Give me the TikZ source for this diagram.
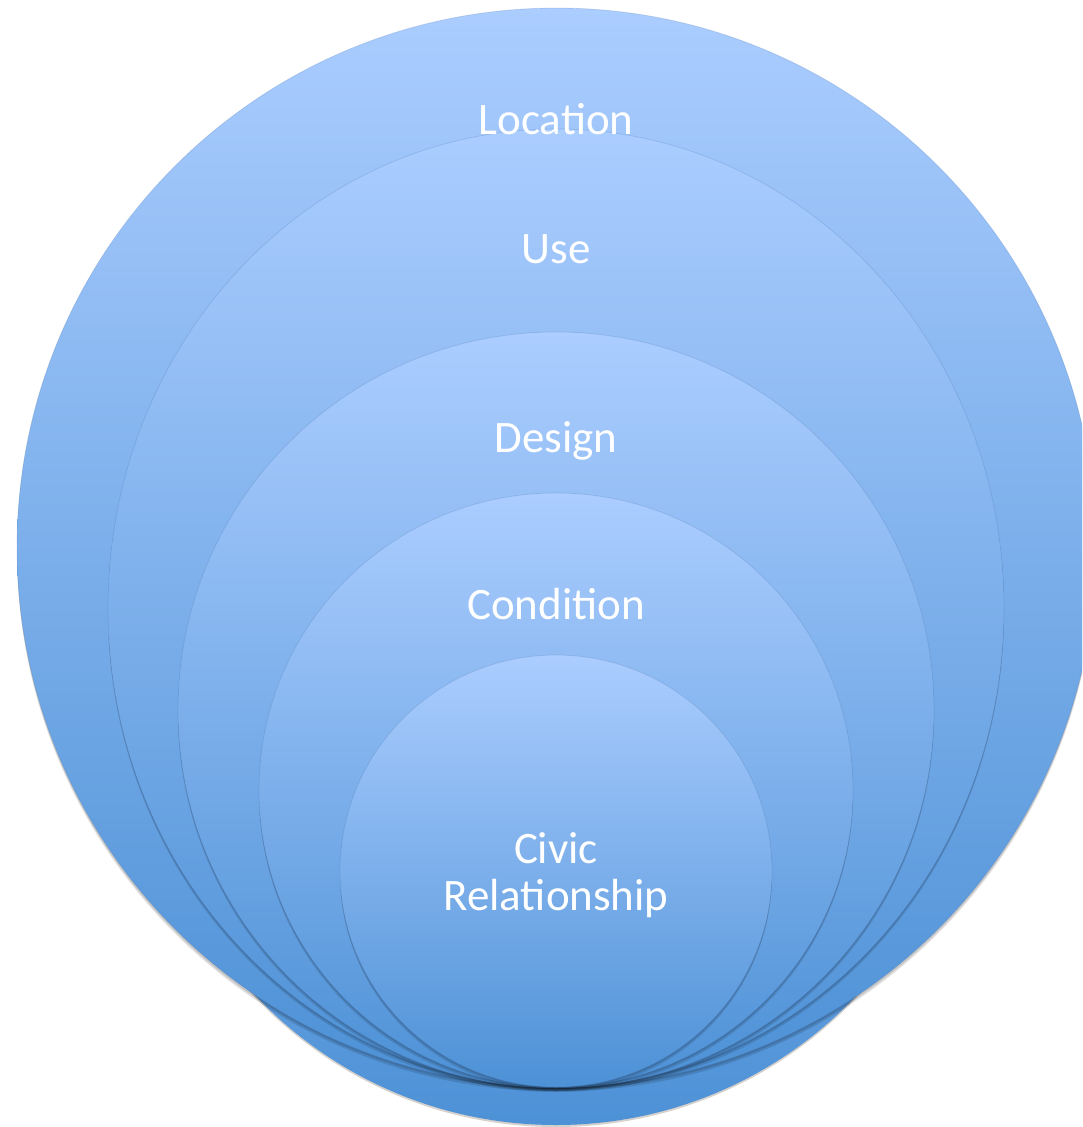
\documentclass[tikz,border=0pt]{standalone}
\usepackage{fontspec}
\setmainfont{Carlito}
\definecolor{topblue}{RGB}{171,205,255}
\definecolor{botblue}{RGB}{77,145,214}
\definecolor{edgeblue}{RGB}{70,110,170}
\definecolor{shadowbrown}{RGB}{90,70,50}
\begin{document}
\begin{tikzpicture}[x=1pt,y=-1pt,
  ring/.style={top color=topblue,bottom color=botblue,draw=edgeblue,draw opacity=0.2,line width=0.8pt},
  ringshadow/.style={fill=black,fill opacity=0.12,draw=none},
  lbl/.style={text=white,font=\fontsize{45}{47}\selectfont,align=center}]
\useasboundingbox (0,0) rectangle (1082,1127);
\clip (0,0) rectangle (1082,1127);
% back shape (visible only at the bottom)
\path[fill=shadowbrown,fill opacity=0.25] (556,713) circle [radius=414];
\path[top color=topblue,bottom color=botblue,draw=none] (556,711) circle [radius=414];
% outer
\path[ringshadow] (556.5,550) circle [radius=539.5];
\path[ringshadow] (556.5,552) circle [radius=539.5];
\path[ring] (556.5,547.5) circle [radius=539.5];
% use
\path[ringshadow] (556,610) ellipse [x radius=448,y radius=479];
\path[ringshadow] (556,612) ellipse [x radius=448,y radius=479];
\path[ring] (556,608) ellipse [x radius=448,y radius=479];
% design
\path[ringshadow] (556,712) circle [radius=378];
\path[ringshadow] (556,714) circle [radius=378];
\path[ring] (556,710) circle [radius=378];
% condition
\path[ringshadow] (556,792) circle [radius=297];
\path[ringshadow] (556,794) circle [radius=297];
\path[ring] (556,790) circle [radius=297];
% civic
\path[ringshadow] (556,873) circle [radius=216];
\path[ringshadow] (556,875) circle [radius=216];
\path[ring] (556,871) circle [radius=216];
\node[lbl] (loc) at (556,119) {Location};
\node[lbl] (use) at (556,249) {Use};
\node[lbl] (des) at (556,441) {Design};
\node[lbl] (con) at (556,604) {Condition};
\node[lbl] (civ) at (556,875) {Civic\\Relationship};
\end{tikzpicture}
\end{document}
